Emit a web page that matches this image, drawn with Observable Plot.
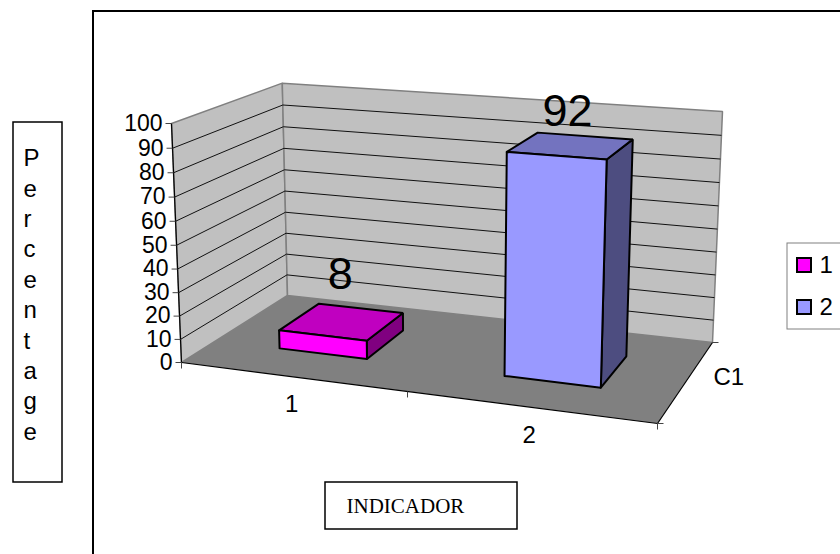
<!DOCTYPE html>
<html>
<head>
<meta charset="utf-8">
<script src="https://cdn.jsdelivr.net/npm/d3@7"></script>
<script src="https://cdn.jsdelivr.net/npm/@observablehq/plot@0.6"></script>
<style>
html,body{margin:0;padding:0;background:#fff;overflow:hidden}
svg{display:block}
</style>
</head>
<body>
<div id="chart"></div>
<script>
// ---- data ----
const categories = ["1", "2"];
const values = [8, 92];
const valueTicks = [0, 10, 20, 30, 40, 50, 60, 70, 80, 90, 100];
const seriesName = "C1";
const frontColors = ["#FF00FF", "#9999FF"];
const topColors = ["#C000C0", "#7373BF"];
const sideColors = ["#800080", "#4D4D80"];
const yLabelLetters = ["P", "e", "r", "c", "e", "n", "t", "a", "g", "e"];
const xTitle = "INDICADOR";

// ---- 3D view of the Excel-style box: category position u, depth d (0..1), value v (0..100) ----
const floorQuad = [[181, 362], [657, 423], [712, 342], [287, 295]];
const frontTopLeft = [171, 123];
const backTopRight = [722, 110];
const catCount = categories.length;
const gapShare = 0.6; // gap width 150%

function makeCamera() {
  const [[x0, y0], [x1, y1], [x2, y2], [x3, y3]] = floorQuad;
  const dx1 = x1 - x2, dx2 = x3 - x2, sx = x0 - x1 + x2 - x3;
  const dy1 = y1 - y2, dy2 = y3 - y2, sy = y0 - y1 + y2 - y3;
  const den = dx1 * dy2 - dx2 * dy1;
  const g = (sx * dy2 - dx2 * sy) / den;
  const h = (dx1 * sy - sx * dy1) / den;
  const a = [x1 - x0 + g * x1, y1 - y0 + g * y1, g];
  const b = [x3 - x0 + h * x3, y3 - y0 + h * y3, h];
  const t = [x0, y0, 1];
  const W = 1 + g + h;
  const X = x2 * W, [fx, fy] = frontTopLeft, [bx] = backTopRight;
  const cw = (X + fx - x0 - bx * W) / (bx - fx);
  const c = [fx * (cw + 1) - x0, fy * (cw + 1) - y0, cw];
  return {a, b, c, t};
}
const cam = makeCamera();
function P(u, d, v) {
  const k = v / 100;
  const X = cam.a[0] * u + cam.b[0] * d + cam.c[0] * k + cam.t[0];
  const Y = cam.a[1] * u + cam.b[1] * d + cam.c[1] * k + cam.t[1];
  const W = cam.a[2] * u + cam.b[2] * d + cam.c[2] * k + cam.t[2];
  return [X / W, Y / W];
}
const poly = (pts, o) => Plot.line([...pts, pts[0]], {x: p => p[0], y: p => p[1], curve: "linear", strokeLinejoin: "miter", ...o});
const seg = (rows, o) => Plot.link(rows, {x1: r => r[0][0], y1: r => r[0][1], x2: r => r[1][0], y2: r => r[1][1], ...o});
const SANS = "Liberation Sans";
const LABEL_SIZE = 24;
const TICK_SIZE = 23;

// walls, floor
const wallMarks = [
  poly([P(0, 0, 0), P(0, 1, 0), P(0, 1, 100), P(0, 0, 100)], {fill: "#C0C0C0", stroke: "#808080", strokeWidth: 1.5}),
  poly([P(0, 1, 0), P(1, 1, 0), P(1, 1, 100), P(0, 1, 100)], {fill: "#C0C0C0", stroke: "#808080", strokeWidth: 1.5}),
  poly([P(0, 0, 0), P(1, 0, 0), P(1, 1, 0), P(0, 1, 0)], {fill: "#808080", stroke: "none"})
];
const gridTicks = valueTicks.slice(1, -1);
const gridMarks = [
  seg(gridTicks.map(v => [P(0, 0, v), P(0, 1, v)]), {stroke: "#111", strokeWidth: 1}),
  seg(gridTicks.map(v => [P(0, 1, v), P(1, 1, v)]), {stroke: "#111", strokeWidth: 1})
];
// axes
const axisMarks = [
  seg([[P(0, 0, 0), P(0, 0, 100)], [P(0, 0, 0), P(1, 0, 0)], [P(1, 0, 0), P(1, 1, 0)]], {stroke: "#000", strokeWidth: 1.2}),
  seg(valueTicks.map(v => { const p = P(0, 0, v); return [[p[0] - 6, p[1]], p]; }), {stroke: "#444", strokeWidth: 1}),
  seg(d3.range(catCount + 1).map(i => { const p = P(i / catCount, 0, 0); return [p, [p[0], p[1] + 6]]; }), {stroke: "#444", strokeWidth: 1}),
  seg([0, 1].map(d => { const p = P(1, d, 0); return [p, [p[0] + 6, p[1]]]; }), {stroke: "#444", strokeWidth: 1}),
  Plot.text(valueTicks, {
    x: v => P(0, 0, v)[0] - 9, y: v => P(0, 0, v)[1], text: v => String(v),
    textAnchor: "end", lineAnchor: "middle", fontFamily: SANS, fontSize: TICK_SIZE, fill: "#000"
  }),
  Plot.text(categories, {
    x: (c, i) => P((i + 0.5) / catCount, 0, 0)[0], y: (c, i) => P((i + 0.5) / catCount, 0, 0)[1] + 28, text: c => c,
    textAnchor: "middle", lineAnchor: "middle", fontFamily: SANS, fontSize: LABEL_SIZE, fill: "#000"
  }),
  Plot.text([seriesName], {
    x: () => P(1, 0.5, 0)[0] + 42, y: () => P(1, 0.5, 0)[1] - 3, text: d => d,
    textAnchor: "middle", lineAnchor: "middle", fontFamily: SANS, fontSize: LABEL_SIZE, fill: "#000"
  })
];
// bars
const labelLift = [21, 13.5];
const labelShift = [-1, -4];
const barMarks = values.flatMap((val, i) => {
  const w = 1 / catCount;
  const uL = (i + gapShare / 2) * w, uR = (i + 1 - gapShare / 2) * w;
  const d0 = 0.3, d1 = 0.7;
  const common = {stroke: "#000", strokeWidth: 2};
  return [
    poly([P(uR, d0, 0), P(uR, d1, 0), P(uR, d1, val), P(uR, d0, val)], {fill: sideColors[i], ...common}),
    poly([P(uL, d0, val), P(uR, d0, val), P(uR, d1, val), P(uL, d1, val)], {fill: topColors[i], ...common}),
    poly([P(uL, d0, 0), P(uR, d0, 0), P(uR, d0, val), P(uL, d0, val)], {fill: frontColors[i], ...common})
  ];
});
const labelMarks = [Plot.text(values, {
  x: (v, i) => P((i + 0.5) / catCount, 0.5, v + labelLift[i])[0] + labelShift[i],
  y: (v, i) => P((i + 0.5) / catCount, 0.5, v + labelLift[i])[1],
  text: v => String(v), textAnchor: "middle", lineAnchor: "middle",
  fontFamily: SANS, fontSize: 45, fill: "#000"
})];

// legend and text boxes
const legendRows = [265, 307];
const box = (x1, y1, x2, y2, stroke, strokeWidth) => Plot.rect([0], {x1: () => x1, y1: () => y1, x2: () => x2, y2: () => y2, fill: "none", stroke, strokeWidth});
const legendMarks = [
  box(787, 243, 846, 329, "#808080", 1),
  Plot.rect(categories, {
    x1: () => 797, x2: () => 811, y1: (c, i) => legendRows[i] - 7, y2: (c, i) => legendRows[i] + 7,
    fill: (c, i) => frontColors[i], stroke: "#000", strokeWidth: 2
  }),
  Plot.text(categories, {
    x: () => 819, y: (c, i) => legendRows[i], text: c => c, textAnchor: "start", lineAnchor: "middle",
    fontFamily: SANS, fontSize: LABEL_SIZE, fill: "#000"
  })
];
const boxMarks = [
  box(93, 11, 846, 560, "#000", 2),
  box(13, 122, 62, 482, "#000", 1.5),
  Plot.text(yLabelLetters, {
    x: () => 23, y: (c, i) => 158 + i * 30.4, text: c => c, textAnchor: "start", lineAnchor: "middle",
    fontFamily: SANS, fontSize: LABEL_SIZE, fill: "#000"
  }),
  box(325, 482, 517, 529, "#000", 1.5),
  Plot.text([xTitle], {
    x: () => 346, y: () => 506, text: d => d, textAnchor: "start", lineAnchor: "middle",
    fontFamily: "Liberation Serif", fontSize: 21, fill: "#000"
  })
];

const chart = Plot.plot({
  width: 840, height: 554, margin: 0,
  x: {domain: [0, 840], range: [0, 840], axis: null},
  y: {domain: [0, 554], range: [0, 554], axis: null},
  style: {background: "#fff"},
  marks: [...boxMarks, ...wallMarks, ...gridMarks, ...axisMarks, ...barMarks, ...labelMarks, ...legendMarks]
});
document.getElementById("chart").append(chart);
</script>
</body>
</html>
